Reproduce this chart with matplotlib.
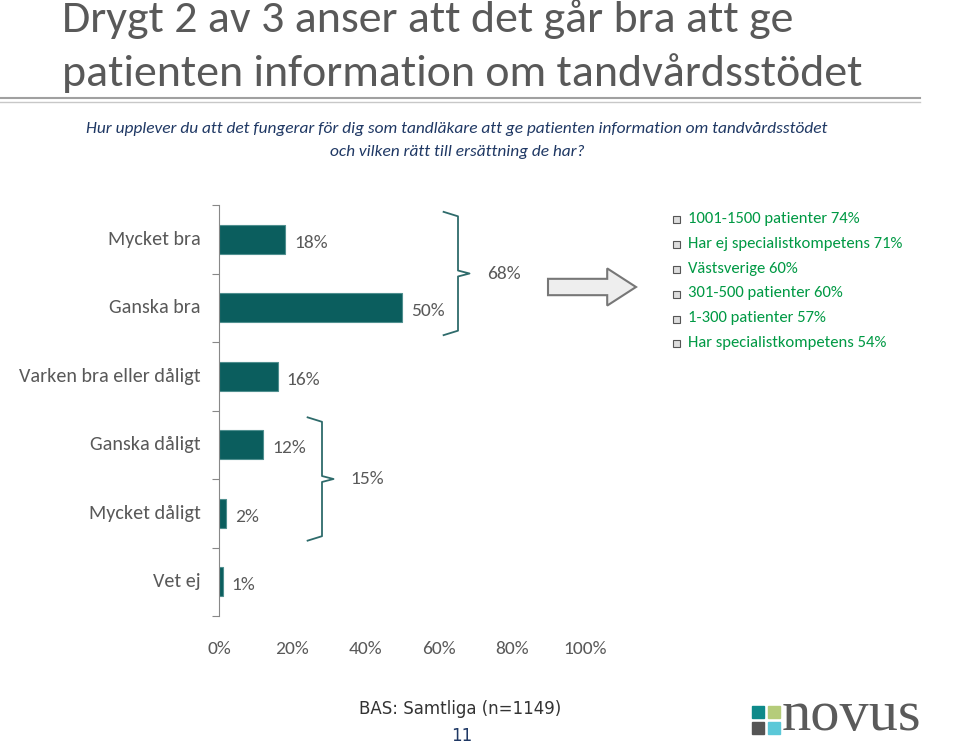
import matplotlib
matplotlib.use("Agg")
import matplotlib.pyplot as plt
from matplotlib.patches import FancyArrow, Rectangle

categories = ["Mycket bra", "Ganska bra", "Varken bra eller dåligt",
              "Ganska dåligt", "Mycket dåligt", "Vet ej"]
values = [18, 50, 16, 12, 2, 1]
xticks = [0, 20, 40, 60, 80, 100]
groups = [(0, 1, "68%"), (3, 4, "15%")]
bullets = ["1001-1500 patienter 74%", "Har ej specialistkompetens 71%",
           "Västsverige 60%", "301-500 patienter 60%",
           "1-300 patienter 57%", "Har specialistkompetens 54%"]

W, H = 960, 744
BAR = "#0b5e5e"
GREY = "#595959"
FONT = "Carlito"

fig = plt.figure(figsize=(W / 100, H / 100), dpi=100)


def fx(x):
    return x / W


def fy(y):
    return 1 - y / H


# title + subtitle
fig.text(fx(62), fy(32), "Drygt 2 av 3 anser att det går bra att ge", fontsize=33,
         color=GREY, va="baseline", family=FONT)
fig.text(fx(62), fy(86), "patienten information om tandvårdsstödet", fontsize=33,
         color=GREY, va="baseline", family=FONT)
fig.add_artist(plt.Line2D([fx(0), fx(920)], [fy(98), fy(98)], color="#a0a0a0", lw=1.5))
fig.add_artist(plt.Line2D([fx(0), fx(920)], [fy(102), fy(102)], color="#c8c8c8", lw=1))
fig.text(fx(457), fy(129), "Hur upplever du att det fungerar för dig som tandläkare att ge patienten information om tandvårdsstödet",
         fontsize=12.5, style="italic", color="#1f3864", ha="center", va="center", family=FONT)
fig.text(fx(457), fy(152), "och vilken rätt till ersättning de har?",
         fontsize=12.5, style="italic", color="#1f3864", ha="center", va="center", family=FONT)

# bar chart
ax = fig.add_axes([fx(219), fy(616), fx(585) - fx(219), (616 - 205) / H])
ypos = list(range(len(categories)))
ax.barh(ypos, values, height=0.42, color=BAR, edgecolor="#4f8f8f", lw=0.8)
for y, v in zip(ypos, values):
    ax.text(v + 2.5, y + 0.05, f"{v}%", va="center", fontsize=14, color=GREY, family=FONT)
ax.set_xlim(0, 100)
ax.set_ylim(len(categories) - 0.5, -0.5)
ax.set_yticks([y - 0.5 for y in ypos] + [len(categories) - 0.5])
ax.set_yticklabels([])
ax.tick_params(axis="y", length=5, color="#888888", direction="out")
ax.set_xticks(xticks)
ax.set_xticklabels([f"{t}%" for t in xticks], fontsize=14, color=GREY, family=FONT)
ax.tick_params(axis="x", length=0, pad=18)
for s in ["top", "right", "bottom"]:
    ax.spines[s].set_visible(False)
ax.spines["left"].set_color("#888888")
for y, c in zip(ypos, categories):
    ax.text(-0.05, y, c, transform=ax.get_yaxis_transform(), ha="right", va="center",
            fontsize=14.5, color=GREY, family=FONT)

# braces
for (a, b, lab), x0 in zip(groups, [458, 322]):
    top = ax.transData.transform((0, a - 0.4))[1]
    bot = ax.transData.transform((0, b + 0.4))[1]
    mid = (top + bot) / 2
    col = "#2e6b6b"
    bx = fx(x0)
    y_t, y_b, y_m = top / H, bot / H, mid / H
    fig.add_artist(plt.Line2D([bx - 0.015, bx, bx, bx + 0.012, bx, bx, bx - 0.015],
                              [y_t, y_t - 0.006, y_m + 0.004, y_m, y_m - 0.004, y_b + 0.006, y_b],
                              color=col, lw=1.3))
    fig.text(bx + 0.03, y_m, lab, fontsize=14, color=GREY, va="center", family=FONT)

# arrow
fig.add_artist(FancyArrow(fx(548), fy(287), fx(636) - fx(548), 0, width=0.022,
                          head_width=0.05, head_length=0.03, length_includes_head=True,
                          facecolor="#eeeeee", edgecolor="#777777", lw=1.5,
                          transform=fig.transFigure))

# bullets
for i, b in enumerate(bullets):
    y = fy(219 + i * 24.8)
    fig.add_artist(Rectangle((fx(673), y - 0.006), 7 / W, 7 / H, facecolor="#dddddd",
                             edgecolor="#555555", lw=0.8, transform=fig.transFigure))
    fig.text(fx(688), y, b, fontsize=12, color="#009944", va="center", family=FONT)

# footer
fig.text(fx(460), fy(709), "BAS: Samtliga (n=1149)", fontsize=12, color="#333333",
         ha="center", va="center", family="DejaVu Sans")
fig.text(fx(462), fy(736), "11", fontsize=12, color="#1f3864", ha="center", va="center")
logo = [(752, 706, "#0e8a8a"), (768, 706, "#b5cc7a"), (752, 722, "#555555"), (768, 722, "#5bc8d8")]
for x, y, c in logo:
    fig.add_artist(Rectangle((fx(x), fy(y + 12)), 12 / W, 12 / H, color=c, transform=fig.transFigure))
fig.text(fx(782), fy(716), "novus", fontsize=42, color="#5a5a5a", va="center",
         family="Liberation Serif")

fig.savefig("out.png", dpi=100)
